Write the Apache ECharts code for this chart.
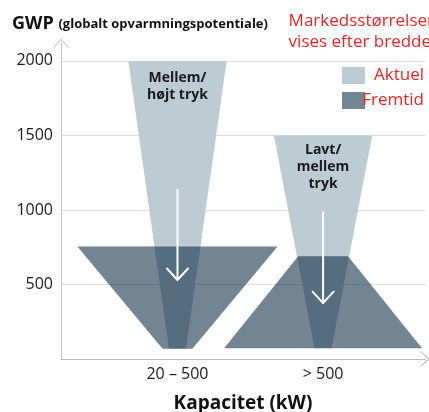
<!DOCTYPE html>
<html>
<head>
<meta charset="utf-8">
<script src="https://cdn.jsdelivr.net/npm/echarts@6/dist/echarts.min.js"></script>
<style>
  html, body { margin: 0; padding: 0; background: #fff; }
  #chart { width: 429px; height: 412px; }
</style>
</head>
<body>
<div id="chart"></div>
<script>
// kategorier på x-aksen (placering på en skjult 0-100 bredde-akse)
const categories = ['20 – 500', '> 500'];
const categoryX = [32, 72];
const shapeLabels = ['Mellem/\nhøjt tryk', 'Lavt/\nmellem\ntryk'];
const labelGwp = [1830, 1290];

// Aktuel: GWP top/bund og bredde top/bund
const currentTop = [2000, 1500];
const currentBottom = [68, 72];
const currentTopWidth = [27, 27];
const currentBottomWidth = [4.7, 4.7];

// Fremtid
const futureTop = [755, 690];
const futureBottom = [68, 72];
const futureTopWidth = [55, 13.7];
const futureBottomWidth = [8.2, 54.4];

// pile: GWP fra -> til
const arrowFrom = [1140, 990];
const arrowTo = [530, 375];

const yTicks = [500, 1000, 1500, 2000];

const RED = '#e52528';
const chevron = 'path://M0,9L8,0L16,9L14.8,9L8,1.4L1.2,9Z';

const toRows = (top, bottom, topW, bottomW) =>
  categoryX.map((x, i) => [x, bottom[i], top[i], bottomW[i], topW[i], labelGwp[i]]);

function trapezoid(params, api, withLabel) {
  const cx = api.value(0);
  const bot = api.value(1);
  const top = api.value(2);
  const bw = api.value(3);
  const tw = api.value(4);
  const points = [
    api.coord([cx - tw / 2, top]),
    api.coord([cx + tw / 2, top]),
    api.coord([cx + bw / 2, bot]),
    api.coord([cx - bw / 2, bot]),
  ];
  const children = [{
    type: 'polygon',
    shape: {points},
    style: {fill: api.visual('color')},
  }];
  if (withLabel) {
    const p = api.coord([cx, api.value(5)]);
    children.push({
      type: 'text',
      x: p[0],
      y: p[1],
      style: {
        text: shapeLabels[params.dataIndex],
        fill: '#1a1a1a',
        font: 'bold 14px "Open Sans"',
        align: 'center',
        verticalAlign: 'middle',
        lineHeight: 17,
      },
    });
  }
  return {type: 'group', children};
}

function arrow(params, api) {
  const p0 = api.coord([api.value(0), api.value(1)]);
  const p1 = api.coord([api.value(0), api.value(2)]);
  return {
    type: 'group',
    children: [
      {
        type: 'line',
        shape: {x1: p0[0], y1: p0[1], x2: p1[0], y2: p1[1]},
        style: {stroke: '#fff', lineWidth: 2},
      },
      {
        type: 'polyline',
        shape: {points: [[p1[0] - 11, p1[1] - 12], [p1[0], p1[1]], [p1[0] + 11, p1[1] - 12]]},
        style: {stroke: '#fff', lineWidth: 2, fill: 'none'},
      },
    ],
  };
}

const chart = echarts.init(document.getElementById('chart'));

const option = {
  backgroundColor: '#fff',
  animation: false,
  textStyle: {fontFamily: 'Open Sans'},
  title: [
    {
      text: '{a|GWP} {b|(globalt opvarmningspotentiale)}',
      left: 12,
      top: 15,
      padding: 0,
      textStyle: {
        rich: {
          a: {fontSize: 18, fontWeight: 'bold', color: '#111', fontFamily: 'Open Sans'},
          b: {fontSize: 13, fontWeight: 'bold', color: '#111', fontFamily: 'Open Sans'},
        },
      },
    },
    {
      text: 'Markedsstørrelser\nvises efter bredde',
      right: -5,
      top: 11,
      padding: 0,
      textStyle: {color: RED, fontSize: 17, fontWeight: 'normal', lineHeight: 21, align: 'right'},
    },
  ],
  legend: {
    orient: 'vertical',
    left: 342,
    top: 67,
    padding: 0,
    itemWidth: 23,
    itemHeight: 17,
    itemGap: 8,
    icon: 'rect',
    data: ['Aktuel', 'Fremtid'],
    formatter: (name) => `{r|${name}}`,
    textStyle: {
      rich: {r: {width: 54, align: 'right', color: RED, fontSize: 17, fontFamily: 'Open Sans'}},
    },
  },
  grid: {left: 61, right: 4, top: 43, bottom: 53, outerBoundsMode: 'none'},
  xAxis: {
    type: 'value',
    min: 0,
    max: 100,
    axisLine: {
      show: true,
      symbol: ['none', chevron],
      symbolSize: [16, 9],
      lineStyle: {color: '#b8b8b8', width: 1},
    },
    axisTick: {show: false},
    splitLine: {show: false},
    axisLabel: {
      customValues: categoryX,
      formatter: (v) => categories[categoryX.indexOf(v)] || '',
      fontSize: 16,
      color: '#1a1a1a',
      margin: 7,
    },
    name: 'Kapacitet (kW)',
    nameLocation: 'middle',
    nameGap: 35,
    nameTextStyle: {fontSize: 19, fontWeight: 'bold', color: '#111'},
  },
  yAxis: {
    type: 'value',
    min: 0,
    max: 2120,
    interval: 500,
    axisLine: {
      show: true,
      symbol: ['none', chevron],
      symbolSize: [16, 9],
      lineStyle: {color: '#c4c4c4', width: 1},
    },
    axisTick: {show: false},
    splitLine: {
      lineStyle: {color: ['#dcdcdc', '#dcdcdc', '#dcdcdc', '#dcdcdc', '#dcdcdc', 'rgba(0,0,0,0)']},
    },
    axisLabel: {
      formatter: (v) => (yTicks.includes(v) ? String(v) : ''),
      fontSize: 16,
      color: '#1a1a1a',
      margin: 8,
    },
  },
  series: [
    {
      name: 'Aktuel',
      type: 'custom',
      z: 2,
      itemStyle: {color: '#bdcbd3'},
      renderItem: (params, api) => trapezoid(params, api, true),
      data: toRows(currentTop, currentBottom, currentTopWidth, currentBottomWidth),
    },
    {
      name: 'Fremtid',
      type: 'custom',
      z: 3,
      itemStyle: {color: 'rgba(0,33,59,0.55)'},
      renderItem: (params, api) => trapezoid(params, api, false),
      data: toRows(futureTop, futureBottom, futureTopWidth, futureBottomWidth),
    },
    {
      name: 'pil',
      type: 'custom',
      z: 4,
      silent: true,
      renderItem: arrow,
      data: categoryX.map((x, i) => [x, arrowFrom[i], arrowTo[i]]),
    },
  ],
};

chart.setOption(option);
window.addEventListener('resize', chart.resize);
</script>
</body>
</html>
